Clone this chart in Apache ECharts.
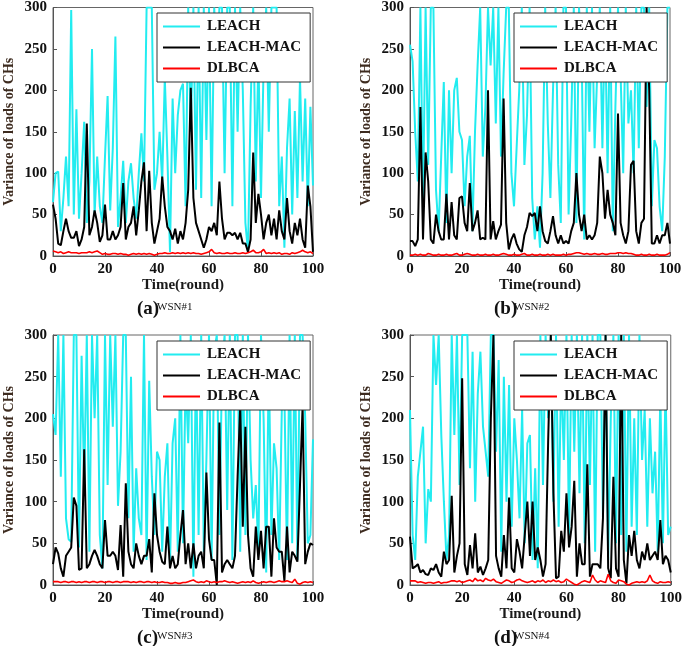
<!DOCTYPE html>
<html>
<head>
<meta charset="utf-8">
<title>Variance of loads of CHs</title>
<script src="https://cdn.jsdelivr.net/npm/echarts@6/dist/echarts.min.js"></script>
<style>
    html, body { margin: 0; padding: 0; background: #fff; }
    #chart { width: 685px; height: 646px; }
</style>
</head>
<body>
<div id="chart"></div>
<script>
// 横轴刻度 / 纵轴刻度
const xTicks = [0, 20, 40, 60, 80, 100];
const yTicks = [0, 50, 100, 150, 200, 250, 300];
const seriesNames = ['LEACH', 'LEACH-MAC', 'DLBCA'];
const panelLabels = ['(a)', '(b)', '(c)', '(d)'];
const panelNotes = ['WSN#1', 'WSN#2', 'WSN#3', 'WSN#4'];

// (a) WSN#1, rounds 0..100
const leachA = [
    65, 100, 102, 30, 70, 120, 60, 297, 50, 177,
    45, 100, 162, 40, 90, 250, 50, 120, 60, 40,
    120, 193, 55, 130, 265, 35, 70, 115, 40, 90,
    112, 70, 45, 100, 148, 90, 300, 300, 300, 80,
    100, 150, 90, 215, 120, 5, 190, 100, 170, 200,
    208, 60, 300, 150, 300, 80, 300, 70, 300, 140,
    300, 60, 300, 220, 300, 300, 100, 300, 300, 60,
    300, 150, 300, 200, 40, 5, 180, 300, 90, 240,
    70, 230, 300, 150, 300, 300, 300, 60, 120, 10,
    130, 190, 50, 175, 70, 215, 90, 190, 60, 180,
    85
];
const macA = [
    62, 45, 15, 13, 30, 45, 30, 22, 22, 30,
    12, 20, 35, 160, 25, 35, 55, 40, 17, 25,
    62, 20, 20, 30, 20, 25, 35, 88, 20, 35,
    40, 60, 25, 55, 90, 113, 30, 103, 40, 15,
    30, 45, 96, 60, 35, 30, 20, 33, 15, 30,
    20, 40, 80, 203, 70, 40, 30, 20, 10, 20,
    35, 30, 40, 25, 90, 45, 20, 28, 28, 25,
    28, 20, 28, 15, 15, 5, 20, 125, 40, 75,
    50, 20, 40, 50, 25, 45, 20, 55, 30, 20,
    70, 30, 15, 40, 25, 45, 20, 10, 85, 60,
    5
];
const dlbcaA = [
    6, 5, 4, 5, 3, 4, 5, 4, 4, 4,
    3, 4, 4, 4, 5, 4, 5, 6, 4, 2,
    3, 2, 2, 3, 3, 2, 3, 2, 2, 1,
    2, 3, 2, 3, 2, 3, 2, 3, 2, 1,
    2, 3, 3, 4, 3, 3, 4, 3, 4, 3,
    4, 3, 4, 3, 4, 3, 3, 2, 3, 4,
    5, 8, 4, 3, 4, 3, 3, 4, 3, 3,
    4, 3, 3, 4, 3, 4, 5, 7, 4, 4,
    5, 8, 3, 4, 3, 4, 3, 4, 2, 3,
    3, 2, 4, 3, 4, 5, 7, 5, 4, 5,
    3
];

// (b) WSN#2
const leachB = [
    255, 235, 150, 90, 300, 60, 300, 110, 300, 300,
    80, 30, 120, 210, 40, 200, 100, 200, 215, 150,
    140, 60, 120, 145, 30, 150, 230, 300, 120, 180,
    300, 230, 300, 160, 300, 120, 220, 300, 300, 100,
    60, 130, 200, 300, 110, 170, 300, 70, 20, 60,
    10, 100, 300, 160, 70, 200, 300, 110, 40, 300,
    300, 50, 160, 300, 40, 300, 250, 20, 300, 150,
    300, 130, 220, 300, 130, 290, 100, 300, 30, 180,
    300, 220, 100, 300, 160, 200, 100, 300, 130, 300,
    300, 180, 300, 60, 140, 130, 60, 30, 120, 300,
    300
];
const macB = [
    18, 18, 12, 20, 180, 20, 125, 90, 20, 15,
    50, 30, 20, 20, 75, 20, 65, 25, 20, 70,
    72, 40, 30, 88, 30, 40, 55, 20, 22, 20,
    200, 20, 42, 20, 30, 38, 190, 40, 8, 20,
    27, 15, 8, 5, 25, 35, 52, 48, 52, 30,
    60, 30, 18, 15, 30, 48, 25, 15, 25, 15,
    18, 15, 30, 40, 100, 50, 30, 50, 20, 25,
    20, 25, 40, 120, 100, 45, 80, 50, 40, 25,
    172, 40, 25, 15, 30, 110, 115, 30, 15, 40,
    45, 300, 200, 15, 15, 25, 15, 25, 25, 40,
    15
];
const dlbcaB = [
    1, 1, 2, 1, 2, 1, 1, 3, 2, 1,
    1, 2, 1, 1, 2, 1, 1, 2, 3, 1,
    1, 2, 3, 2, 1, 1, 2, 1, 1, 2,
    1, 1, 2, 1, 1, 2, 3, 2, 1, 1,
    2, 1, 1, 2, 3, 1, 1, 2, 1, 1,
    2, 1, 1, 2, 1, 2, 1, 1, 1, 2,
    1, 2, 2, 3, 4, 4, 3, 2, 3, 2,
    2, 3, 2, 2, 3, 2, 2, 3, 3, 3,
    4, 4, 3, 4, 3, 3, 2, 1, 1, 2,
    1, 1, 2, 1, 1, 2, 1, 1, 1, 2,
    4
];

// (c) WSN#3
const leachC = [
    205, 180, 300, 130, 300, 80, 55, 52, 300, 300,
    45, 275, 120, 300, 40, 300, 200, 300, 60, 20,
    300, 120, 300, 190, 300, 95, 160, 300, 300, 80,
    250, 40, 140, 80, 60, 300, 30, 245, 130, 60,
    160, 150, 40, 130, 170, 25, 170, 200, 40, 300,
    50, 250, 170, 300, 10, 280, 60, 300, 40, 150,
    300, 30, 280, 300, 60, 260, 300, 90, 300, 30,
    300, 300, 40, 300, 60, 300, 150, 80, 120, 40,
    300, 200, 15, 270, 60, 170, 140, 30, 210, 230,
    30, 300, 50, 300, 30, 300, 300, 200, 50, 60,
    175
];
const macC = [
    25, 45, 38, 20, 10, 35, 40, 45, 105, 95,
    18, 20, 163, 20, 25, 35, 42, 35, 25, 20,
    78, 35, 35, 40, 35, 18, 72, 10, 122, 40,
    25, 20, 50, 35, 25, 35, 35, 55, 15, 110,
    60, 40, 28, 25, 70, 20, 35, 20, 25, 60,
    90, 25, 50, 20, 50, 20, 35, 40, 20, 135,
    55, 30, 30, 0, 195, 15, 25, 30, 25, 20,
    35, 130, 215, 70, 190, 60, 20, 10, 70, 30,
    65, 20, 70, 70, 10, 80, 45, 40, 40, 5,
    70, 15, 40, 35, 28, 120, 215, 25, 40, 50,
    48
];
const dlbcaC = [
    4, 4, 4, 3, 4, 4, 3, 4, 4, 3,
    4, 3, 4, 4, 3, 4, 4, 3, 4, 4,
    3, 4, 4, 3, 4, 4, 3, 4, 4, 4,
    3, 4, 3, 4, 4, 3, 4, 4, 3, 4,
    3, 3, 4, 3, 3, 2, 2, 3, 2, 2,
    3, 3, 4, 5, 6, 4, 3, 4, 3, 5,
    4, 3, 4, 3, 4, 4, 5, 4, 3, 4,
    3, 2, 3, 4, 3, 4, 3, 5, 3, 2,
    3, 4, 3, 4, 4, 3, 4, 5, 4, 4,
    5, 4, 3, 7, 2, 1, 3, 4, 3, 4,
    3
];

// (d) WSN#4
const leachD = [
    210, 60, 30, 130, 160, 190, 50, 115, 100, 300,
    240, 300, 180, 100, 30, 60, 300, 180, 300, 120,
    300, 300, 300, 140, 280, 100, 230, 280, 190, 160,
    130, 300, 300, 160, 270, 40, 250, 100, 240, 70,
    200, 150, 80, 210, 50, 170, 180, 30, 140, 20,
    300, 120, 300, 200, 300, 100, 300, 70, 260, 150,
    300, 60, 300, 160, 300, 110, 300, 50, 300, 120,
    300, 40, 300, 300, 80, 300, 30, 200, 300, 50,
    300, 60, 300, 40, 300, 70, 200, 60, 300, 150,
    210, 70, 200, 110, 160, 40, 230, 50, 240, 60,
    70
];
const macD = [
    58, 20, 22, 25, 15, 18, 13, 12, 20, 18,
    25, 15, 10, 40, 25, 30, 107, 15, 35, 50,
    248, 25, 12, 48, 20, 62, 15, 22, 12, 20,
    30, 200, 300, 35, 20, 10, 60, 20, 105, 20,
    15, 55, 40, 20, 60, 100, 35, 100, 30, 45,
    30, 10, 25, 175, 300, 110, 8, 10, 65, 40,
    110, 45, 70, 125, 10, 50, 25, 25, 145, 10,
    25, 25, 25, 20, 80, 300, 20, 8, 130, 20,
    10, 300, 30, 2, 60, 35, 65, 30, 20, 40,
    30, 50, 30, 35, 40, 30, 78, 25, 35, 30,
    15
];
const dlbcaD = [
    5, 5, 5, 3, 4, 3, 2, 3, 3, 2,
    3, 4, 2, 3, 3, 4, 5, 5, 4, 5,
    3, 4, 5, 6, 4, 8, 5, 6, 4, 8,
    6, 5, 7, 4, 3, 2, 4, 6, 5, 3,
    4, 6, 7, 5, 4, 3, 4, 5, 3, 5,
    4, 6, 3, 5, 4, 6, 4, 5, 3, 4,
    7, 5, 3, 1, 0, 2, 4, 5, 4, 3,
    12, 6, 3, 5, 4, 3, 13, 5, 3, 2,
    6, 5, 4, 1, 0, 2, 3, 4, 3, 4,
    3, 5, 12, 5, 3, 2, 4, 3, 3, 4,
    3
];

const panelData = [
    [leachA, macA, dlbcaA],
    [leachB, macB, dlbcaB],
    [leachC, macC, dlbcaC],
    [leachD, macD, dlbcaD]
];

document.addEventListener('DOMContentLoaded', function () {
    initChart();
});

function initChart() {
    if (typeof echarts === 'undefined') {
        console.error('ECharts not loaded');
        return;
    }

    const chart = echarts.init(document.getElementById('chart'), null, { renderer: 'canvas' });
    const font = '"Liberation Serif", "Times New Roman", serif';
    const colors = ['#22ecf0', '#000000', '#ff0000'];
    const widths = [2, 2, 1.6];

    // 四个子图的位置
    const boxes = [
        { left: 53, top: 7, width: 260, height: 249 },
        { left: 410, top: 7, width: 260, height: 249 },
        { left: 53, top: 335, width: 260, height: 250 },
        { left: 410, top: 335, width: 261, height: 250 }
    ];

    const grid = [], xAxis = [], yAxis = [], series = [], legend = [], graphic = [];

    boxes.forEach((b, k) => {
        grid.push({
            left: b.left, top: b.top, width: b.width, height: b.height,
            show: true, borderColor: '#666', borderWidth: 1, backgroundColor: '#fff'
        });

        xAxis.push({
            gridIndex: k, type: 'value',
            min: xTicks[0], max: xTicks[xTicks.length - 1], interval: 20,
            name: 'Time(round)', nameLocation: 'middle', nameGap: 22,
            nameTextStyle: { fontFamily: font, fontWeight: 'bold', fontSize: 15, color: '#1a1a1a' },
            axisLine: { lineStyle: { color: '#555' } },
            axisTick: { inside: true, length: 4, lineStyle: { color: '#555' } },
            axisLabel: { margin: 6, fontFamily: font, fontWeight: 'bold', fontSize: 15, color: '#111' },
            splitLine: { show: false }
        });

        yAxis.push({
            gridIndex: k, type: 'value',
            min: yTicks[0], max: yTicks[yTicks.length - 1], interval: 50,
            name: 'Variance of loads of CHs', nameLocation: 'middle', nameGap: 37,
            nameTextStyle: { fontFamily: font, fontWeight: 'bold', fontSize: 14, color: '#3d2b1f' },
            axisLine: { lineStyle: { color: '#555' } },
            axisTick: { inside: true, length: 4, lineStyle: { color: '#555' } },
            axisLabel: { margin: 6, fontFamily: font, fontWeight: 'bold', fontSize: 15, color: '#111' },
            splitLine: { show: false }
        });

        panelData[k].forEach((vals, s) => {
            series.push({
                name: seriesNames[s], type: 'line',
                xAxisIndex: k, yAxisIndex: k,
                data: vals.map((v, i) => [i, v]),
                symbol: 'none', showSymbol: false,
                clip: true,
                lineStyle: { color: colors[s], width: widths[s] },
                itemStyle: { color: colors[s] },
                z: 2 + s
            });
        });

        // 图例（每个子图右上角一个），图标用细长矩形代替线段
        legend.push({
            data: seriesNames,
            orient: 'vertical',
            left: b.left + 104, top: b.top + 6,
            icon: 'rect',
            itemWidth: 37, itemHeight: 2, itemGap: 6,
            padding: [6, 9, 6, 6],
            borderColor: '#333', borderWidth: 1, backgroundColor: '#fff',
            selectedMode: false,
            textStyle: { fontFamily: font, fontWeight: 'bold', fontSize: 15, color: '#111', padding: [0, 0, 0, 2] }
        });

        // 子图标注
        const capTop = b.top + b.height + 44;
        graphic.push({
            type: 'text', left: b.left + 84, top: capTop,
            style: { text: panelLabels[k], font: 'bold 19px ' + font, fill: '#111' }
        });
        graphic.push({
            type: 'text', left: b.left + 104, top: capTop + 2,
            style: { text: panelNotes[k], font: '11px ' + font, fill: '#111' }
        });
    });

    chart.setOption({
        animation: false,
        backgroundColor: '#fff',
        grid: grid,
        xAxis: xAxis,
        yAxis: yAxis,
        legend: legend,
        series: series,
        graphic: graphic
    });

    window.addEventListener('resize', function () {
        chart.resize();
    });
}
</script>
</body>
</html>
